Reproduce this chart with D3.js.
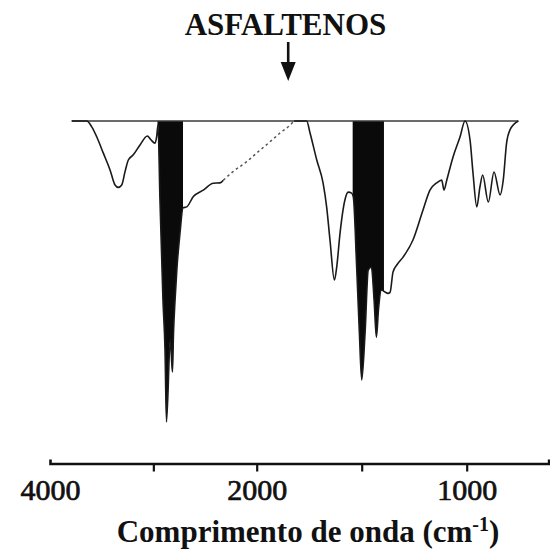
<!DOCTYPE html>
<html>
<head>
<meta charset="utf-8">
<script src="https://cdn.jsdelivr.net/npm/d3@7"></script>
<style>
  html, body { margin: 0; padding: 0; background: #fff; }
  svg { display: block; }
  text { font-family: "Liberation Serif", "Times New Roman", serif; fill: #111; }
</style>
</head>
<body>
<svg id="chart" width="550" height="556"></svg>
<script>
// IR spectrum of asphaltenes: wavenumber (cm-1) against transmittance (%)
const wavenumber = [
  3790, 3645, 3596, 3548, 3484, 3419, 3371, 3339, 3306, 3274,
  3242, 3194, 3129, 3058, 3026, 2984, 2968, 2955, 2936, 2907,
  2887, 2873, 2836, 2815, 2805, 2790, 2771, 2742, 2713, 2677,
  2613, 2517, 2420, 2355, 2323, 2229, 2097, 1984, 1937, 1889,
  1841, 1822, 1762, 1746, 1714, 1684, 1667, 1651, 1630, 1619,
  1603, 1580, 1564, 1548, 1540, 1524, 1511, 1500, 1484, 1469,
  1454, 1441, 1430, 1420, 1406, 1389, 1375, 1365, 1351, 1333,
  1303, 1256, 1208, 1175, 1143, 1119, 1108, 1095, 1065, 1032,
  1008, 984, 970, 952, 937, 924, 897, 870, 841, 826,
  810, 794, 754
];
const transmittance = [
  100, 100, 98.3, 95.4, 90.6, 85.7, 81.3, 80.6, 81.3, 85.2,
  88.6, 90.1, 93.0, 95.6, 94.6, 93.5, 95.4, 98.8, 76.9, 47.7,
  33.0, 12.0, 36.0, 26.6, 38.0, 47.7, 57.3, 67.3, 74.6, 74.9,
  77.9, 79.8, 81.8, 81.9, 82.7, 85.2, 88.1, 91.5, 93.9, 96.5,
  98.8, 100, 100, 96.5, 88.6, 81.9, 74.9, 65.2, 53.5, 57.3,
  67.3, 76.9, 79.2, 78.9, 77.8, 57.3, 38.0, 24.3, 38.0, 56.4,
  57.3, 47.7, 36.8, 45.0, 50.6, 50.0, 49.6, 49.9, 55.8, 57.9,
  60.2, 65.2, 74.0, 79.8, 81.9, 82.7, 79.8, 82.7, 89.5, 95.3,
  100, 94.4, 84.8, 74.9, 80.7, 84.2, 76.3, 85.1, 78.4, 82.7,
  93.6, 97.4, 100
];

// strong absorption bands drawn solid black (from, to in cm-1)
const filledBands = [[2960, 2713], [1543, 1394]];
// stretch of the trace that prints faint and dotted
const faintRange = [2323, 1822];
// 100 % transmittance reference line
const baselineRange = [3790, 754];

const tickValues = [4000, 3000, 2000, 1500, 1000];
const tickLabels = ["4000", "", "2000", "", "1000"];
const arrowAt = 1850;

const titleText = "ASFALTENOS";
const xTitle = "Comprimento de onda (cm";
const xTitleSup = "-1";

// ---- scales: the wavenumber axis doubles its scale below 2000 cm-1 ----
const x = d3.scaleLinear().domain([4000, 2000, 610]).range([50, 256.7, 548.6]);
const y = d3.scaleLinear().domain([0, 100]).range([463, 121]);

const svg = d3.select("#chart");
const points = wavenumber.map((w, i) => ({ w, t: transmittance[i] }));

const line = d3.line().x(d => x(d.w)).y(d => y(d.t)).curve(d3.curveMonotoneX);
const area = d3.area().x(d => x(d.w)).y0(y(100)).y1(d => y(d.t)).curve(d3.curveMonotoneX);

// filled bands, each clipped to its own wavenumber window
const defs = svg.append("defs");
filledBands.forEach((b, i) => {
  defs.append("clipPath").attr("id", "band" + i)
    .append("rect")
    .attr("x", x(b[0])).attr("width", x(b[1]) - x(b[0]))
    .attr("y", 0).attr("height", 556);
  svg.append("path")
    .datum(points)
    .attr("clip-path", `url(#band${i})`)
    .attr("d", area)
    .attr("fill", "#0a0a0a");
});

// reference line along the top
svg.append("line")
  .attr("x1", x(baselineRange[0])).attr("x2", x(baselineRange[1]))
  .attr("y1", y(100)).attr("y2", y(100))
  .attr("stroke", "#3a3a3a").attr("stroke-width", 1.4);

// spectrum trace: solid, faint dotted, solid
const segA = points.filter(d => d.w >= faintRange[0]);
const segB = points.filter(d => d.w <= faintRange[0] && d.w >= faintRange[1]);
const segC = points.filter(d => d.w <= faintRange[1]);

[segA, segC].forEach(seg => {
  svg.append("path").datum(seg).attr("d", line)
    .attr("fill", "none").attr("stroke", "#1a1a1a")
    .attr("stroke-width", 1.6).attr("stroke-linejoin", "round");
});
svg.append("path").datum(segB).attr("d", line)
  .attr("fill", "none").attr("stroke", "#555")
  .attr("stroke-width", 1.5).attr("stroke-dasharray", "2.5,3");

// ---- x axis ----
const axis = d3.axisBottom(x)
  .tickValues(tickValues)
  .tickFormat((d, i) => tickLabels[i])
  .tickSizeInner(8)
  .tickSizeOuter(-4)
  .tickPadding(7);

const gAxis = svg.append("g").attr("transform", "translate(0,463.5)").call(axis);
gAxis.select(".domain").attr("stroke", "#111").attr("stroke-width", 2.6);
gAxis.selectAll(".tick line").attr("stroke", "#111").attr("stroke-width", 2.2)
  .filter(d => d === 4000).remove();
gAxis.selectAll(".tick text")
  .attr("font-family", "Liberation Serif, serif")
  .attr("font-size", 30).attr("fill", "#111")
  .attr("stroke", "#111").attr("stroke-width", 0.7);

// axis title
const xt = svg.append("text")
  .attr("x", 308).attr("y", 542)
  .attr("text-anchor", "middle")
  .attr("font-size", 31).attr("font-weight", "bold");
xt.append("tspan").text(xTitle);
xt.append("tspan").attr("dy", -11).attr("font-size", 20).text(xTitleSup);
xt.append("tspan").attr("dy", 11).text(")");

// title and arrow
svg.append("text")
  .attr("x", 285.5).attr("y", 35)
  .attr("text-anchor", "middle")
  .attr("font-size", 31).attr("font-weight", "bold")
  .text(titleText);

const ax = x(arrowAt);
svg.append("line")
  .attr("x1", ax).attr("x2", ax).attr("y1", 42).attr("y2", 66)
  .attr("stroke", "#111").attr("stroke-width", 2.6);
svg.append("path")
  .attr("d", `M${ax - 7.5},62 L${ax + 7.5},62 L${ax},81 Z`)
  .attr("fill", "#111");
</script>
</body>
</html>
